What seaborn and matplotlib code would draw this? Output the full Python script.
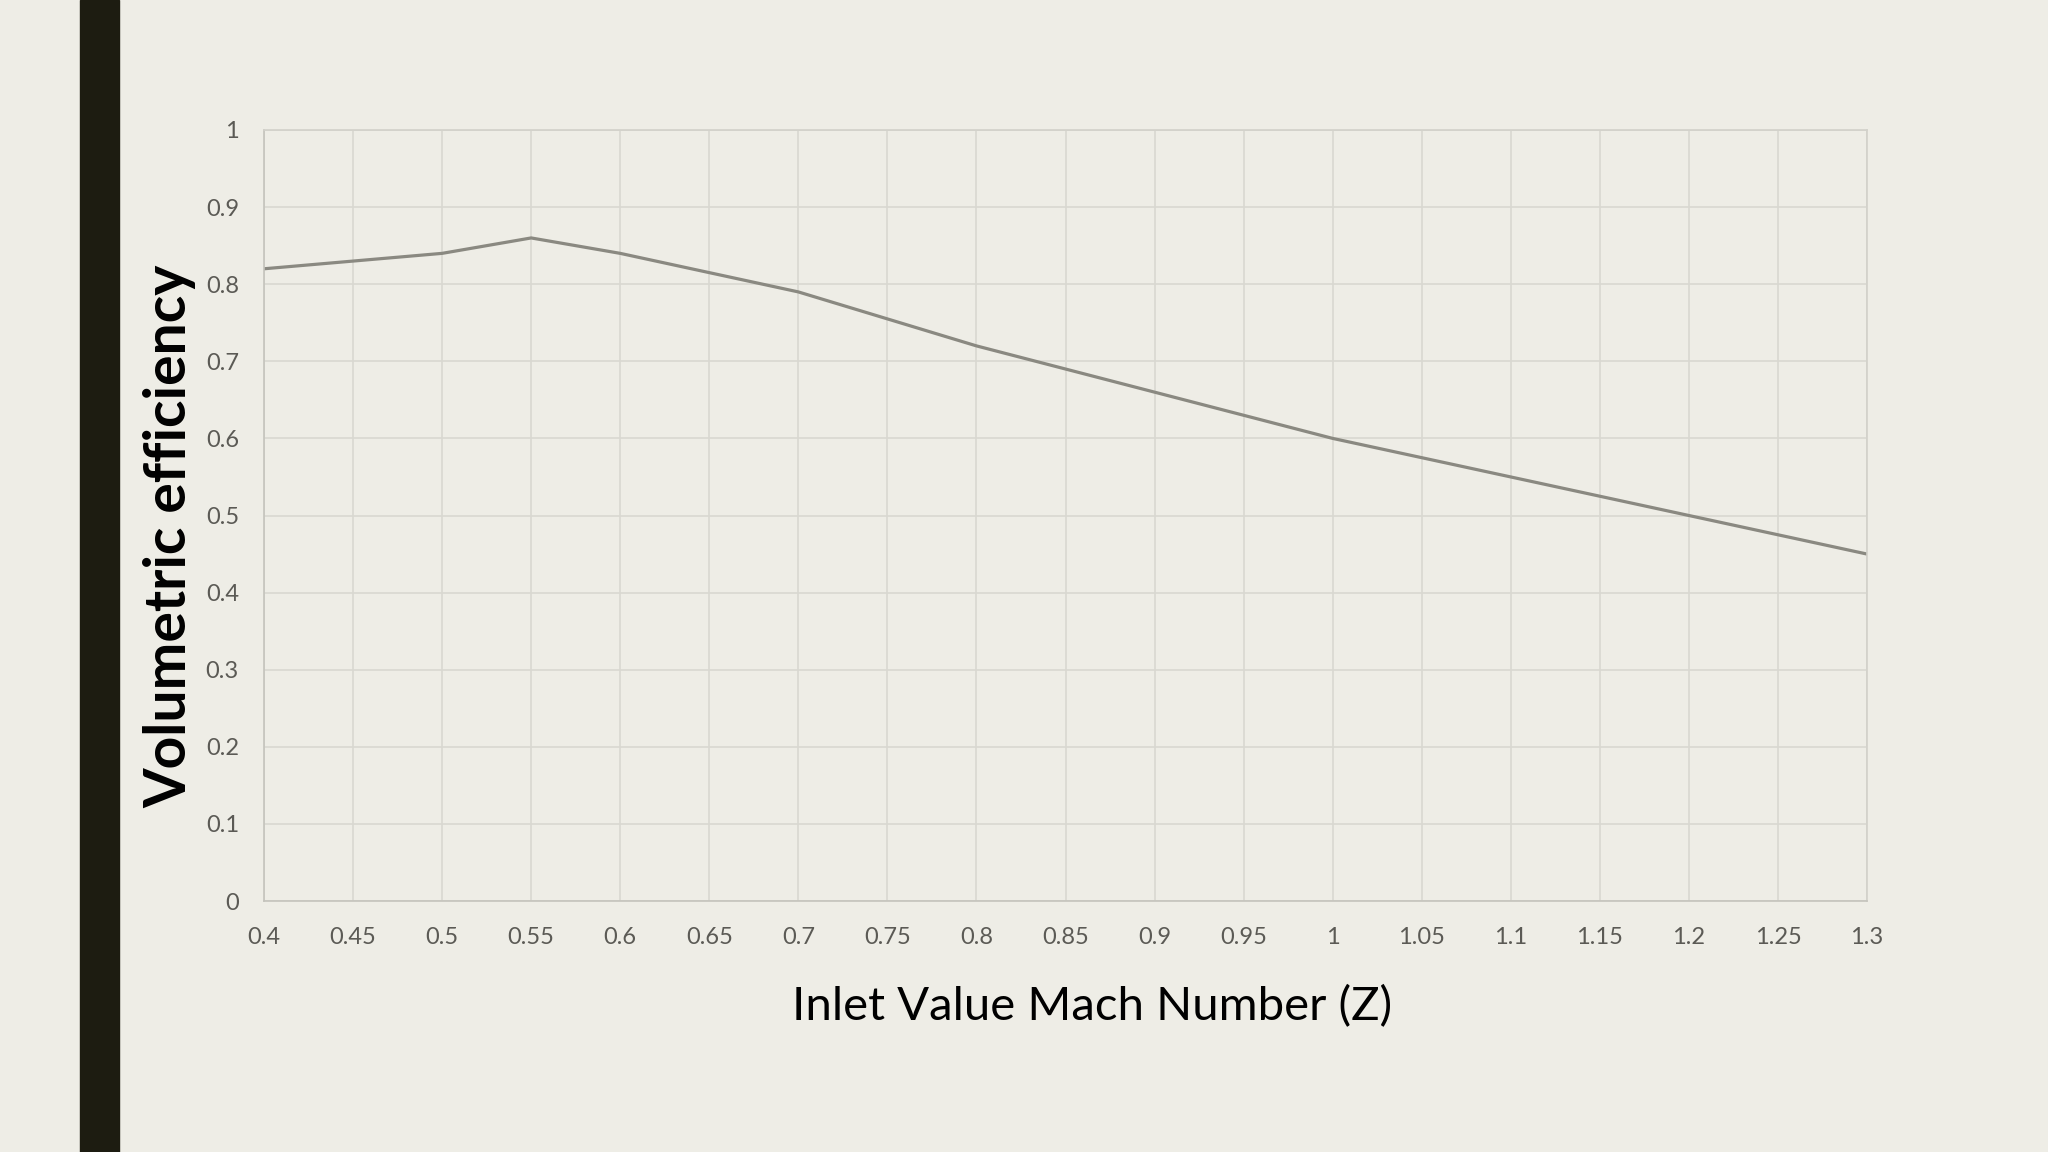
import matplotlib
matplotlib.use("Agg")
import matplotlib.pyplot as plt
import pandas as pd
import seaborn as sns

# values
mach_number = [0.4, 0.45, 0.5, 0.55, 0.6, 0.65, 0.7, 0.75, 0.8, 0.85,
               0.9, 0.95, 1.0, 1.05, 1.1, 1.15, 1.2, 1.25, 1.3]
vol_efficiency = [0.82, 0.83, 0.84, 0.86, 0.84, 0.815, 0.79, 0.755, 0.72, 0.69,
                  0.66, 0.63, 0.60, 0.575, 0.55, 0.525, 0.50, 0.475, 0.45]
x_ticks = mach_number
x_tick_labels = ["0.4", "0.45", "0.5", "0.55", "0.6", "0.65", "0.7", "0.75", "0.8",
                 "0.85", "0.9", "0.95", "1", "1.05", "1.1", "1.15", "1.2", "1.25", "1.3"]
y_ticks = [0, 0.1, 0.2, 0.3, 0.4, 0.5, 0.6, 0.7, 0.8, 0.9, 1.0]
y_tick_labels = ["0", "0.1", "0.2", "0.3", "0.4", "0.5", "0.6", "0.7", "0.8", "0.9", "1"]

bg = "#eeede6"
sns.set_theme(style="whitegrid")
plt.rcParams["font.family"] = ["Lato", "DejaVu Sans"]

df = pd.DataFrame({"mach": mach_number, "eff": vol_efficiency})

fig = plt.figure(figsize=(20.48, 11.52), dpi=100, facecolor=bg)
ax = fig.add_axes([264 / 2048, 1 - 901 / 1152, (1867 - 264) / 2048, (901 - 130) / 1152])
ax.set_facecolor(bg)

# dark vertical bar on the left of the slide
fig.patches.append(plt.Rectangle((80 / 2048, 0), 39 / 2048, 1, transform=fig.transFigure,
                                 color="#1d1c11", zorder=0))

sns.lineplot(x="mach", y="eff", data=df, ax=ax, color="#8a8981", linewidth=2.3)

ax.set_xlim(0.4, 1.3)
ax.set_ylim(0, 1)
ax.set_xticks(x_ticks)
ax.set_xticklabels(x_tick_labels)
ax.set_yticks(y_ticks)
ax.set_yticklabels(y_tick_labels)
ax.tick_params(axis="both", labelsize=17, labelcolor="#5b5a55", length=0)
ax.tick_params(axis="x", pad=19)
ax.tick_params(axis="y", pad=18)
ax.grid(True, color="#d9d8d1", linewidth=1.2)
for side, spine in ax.spines.items():
    spine.set_color("#d2d1ca")
    spine.set_linewidth(1.2)
ax.spines["left"].set_color("#c4c3bc")
ax.spines["bottom"].set_color("#c4c3bc")
ax.set_xlabel("")
ax.set_ylabel("")

fig.text(170 / 2048, 1 - 536 / 1152, "Volumetric efficiency", rotation=90,
         ha="center", va="center", fontsize=41, fontweight="bold", color="#000000")
fig.text(1092 / 2048, 1 - 1007 / 1152, "Inlet Value Mach Number (Z)",
         ha="center", va="center", fontsize=34, color="#000000")

fig.savefig("out.png", dpi=100, facecolor=bg)
